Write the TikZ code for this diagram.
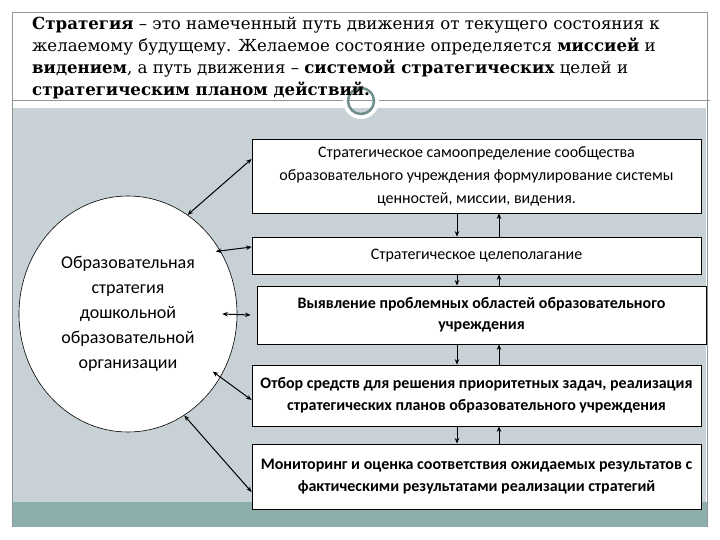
\documentclass[tikz,border=0pt]{standalone}
\usepackage{fontspec}
\setmainfont{Carlito}
\newfontfamily\hdrfont{DejaVu Serif}
\usetikzlibrary{arrows.meta,shapes.geometric}
\definecolor{bandgray}{HTML}{C8D1D6}
\definecolor{bandteal}{HTML}{8DAEAA}
\definecolor{framegray}{HTML}{8C9696}
\definecolor{ringcol}{HTML}{6F8E8C}
\tikzset{
  boxnode/.style={draw=black, line width=0.8pt, fill=white, minimum width=449pt, align=center, inner sep=2pt,
    font=\fontsize{16}{23}\selectfont},
  boldbox/.style={boxnode, font=\fontsize{16}{21.5}\selectfont\bfseries},
  hdr/.style={anchor=base west, inner sep=0pt, font=\hdrfont\fontsize{16.6}{22}\selectfont},
  arr/.style={line width=1pt, -{Stealth[length=5.5pt,width=4.5pt]}},
  darr/.style={line width=1pt, {Stealth[length=5.5pt,width=4.5pt]}-{Stealth[length=5.5pt,width=4.5pt]}}
}
\begin{document}
\begin{tikzpicture}[x=1pt,y=-1pt]
\useasboundingbox (0,0) rectangle (720,540);
% background bands
\fill[white] (0,0) rectangle (720,540);
\fill[bandgray] (12,108) rectangle (706,502);
\fill[bandteal] (12,502) rectangle (707,527);
\draw[framegray, line width=0.8pt] (12,12) -- (12,527);
\draw[framegray, line width=0.6pt] (12,12) -- (707,12);
\draw[framegray, line width=0.8pt] (707,12) -- (707,527);
\draw[framegray, line width=0.8pt] (12,100) -- (710,100);
% ring decoration
\draw[white, line width=4pt] (361,101) circle (16);
\draw[ringcol, line width=2.5pt] (361,101) circle (13);
% header text
\node[hdr] (h1) at (32,30) {\textbf{Стратегия} – это намеченный путь движения от текущего состояния к};
\node[hdr] (h2) at (32,52) {желаемому будущему. Желаемое состояние определяется \textbf{миссией} и};
\node[hdr] (h3) at (32,74) {\textbf{видением}, а путь движения – \textbf{системой стратегических} целей и};
\node[hdr] (h4) at (32,96) {\textbf{стратегическим планом действий.}};
% ellipse
\node[ellipse, draw=black, line width=0.6pt, fill=white, minimum width=218pt, minimum height=236pt, inner sep=0pt, align=center,
  font=\fontsize{18}{25}\selectfont] (e) at (128,314)
  {Образовательная\\стратегия\\дошкольной\\образовательной\\организации};
% boxes
\node[boxnode, minimum height=74pt] (b1) at (476.5,176)
  {Стратегическое самоопределение сообщества\\образовательного учреждения формулирование системы\\ценностей, миссии, видения.};
\node[boxnode, minimum height=37pt] (b2) at (476.5,255.5) {Стратегическое целеполагание};
\node[boldbox, minimum height=58pt] (b3) at (481.5,315)
  {Выявление проблемных областей образовательного\\учреждения};
\node[boldbox, minimum height=61pt] (b4) at (476.5,395.5)
  {Отбор средств для решения приоритетных задач, реализация\\стратегических планов образовательного учреждения};
\node[boldbox, minimum height=65pt] (b5) at (476.5,476.5)
  {Мониторинг и оценка соответствия ожидаемых результатов с\\фактическими результатами реализации стратегий};
% vertical arrows
\coordinate (dn) at (457,0);
\coordinate (up) at (499,0);
\draw[arr] (b1.south -| dn) -- (b2.north -| dn);
\draw[arr] (b2.north -| up) -- (b1.south -| up);
\draw[arr] (b2.south -| dn) -- (b3.north -| dn);
\draw[arr] (b3.north -| up) -- (b2.south -| up);
\draw[arr] (b3.south -| dn) -- (b4.north -| dn);
\draw[arr] (b4.north -| up) -- (b3.south -| up);
\draw[arr] (b4.south -| dn) -- (b5.north -| dn);
\draw[arr] (b5.north -| up) -- (b4.south -| up);
% ellipse connectors
\draw[darr] (e.59) -- ([yshift=17pt]b1.west);
\draw[darr] ([xshift=-5pt]e.34) -- ([yshift=8.5pt]b2.west);
\draw[darr] ([xshift=-15pt]e.east) -- ([xshift=-6pt]b3.west);
\draw[darr] ([xshift=-8pt,yshift=5pt]e.-34) -- ([yshift=-4.5pt]b4.west);
\draw[darr] (e.-61) -- ([yshift=-15.5pt]b5.west);
\end{tikzpicture}
\end{document}
